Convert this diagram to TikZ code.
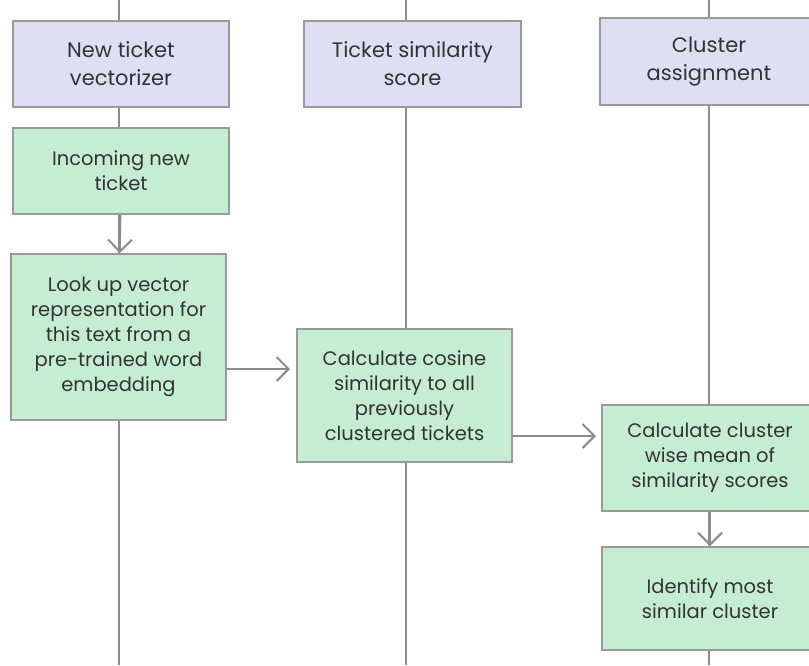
\documentclass[tikz,border=0pt]{standalone}
\usepackage{fontspec}
\setmainfont{Poppins}
\usetikzlibrary{arrows.meta}
\definecolor{hdrfill}{HTML}{DFDFF3}
\definecolor{stepfill}{HTML}{C5EDD2}
\definecolor{boxline}{HTML}{9A9A9A}
\definecolor{flowline}{HTML}{8C8C8C}
\definecolor{txt}{HTML}{333333}

\begin{document}
\begin{tikzpicture}[x=1pt, y=-1pt,
    lanebox/.style={draw=boxline, line width=2pt, fill=hdrfill, text=txt, align=center,
      inner sep=0pt, font=\fontsize{21}{28}\selectfont},
    stepbox/.style={lanebox, fill=stepfill, font=\fontsize{19.5}{25}\selectfont},
    lifeline/.style={draw=flowline, line width=2pt},
    flow/.style={lifeline, -{Straight Barb[length=12pt, width=24pt, line width=2pt]}}]
    \useasboundingbox (0,0) rectangle (809,665);
    % lifelines
    \coordinate (top1) at (119,0); \coordinate (bot1) at (119,665);
    \coordinate (top2) at (406,0); \coordinate (bot2) at (406,665);
    \coordinate (top3) at (709,0); \coordinate (bot3) at (709,665);
    \draw[lifeline] (top1) -- (bot1) (top2) -- (bot2) (top3) -- (bot3);
    % lane headers
    \node[lanebox, minimum width=216pt, minimum height=86pt] (vec) at (121,63.5) {New ticket\\vectorizer};
    \node[lanebox, minimum width=217pt, minimum height=86pt] (sim) at (412.5,64) {Ticket similarity\\score};
    \node[lanebox, minimum width=218pt, minimum height=87pt] (clu) at (709,61.5) {Cluster\\assignment};
    % steps
    \node[stepbox, minimum width=216pt, minimum height=86pt] (inc) at (121,171) {Incoming new\\ticket};
    \node[stepbox, minimum width=215pt, minimum height=166pt] (look) at (118.5,337) {Look up vector\\representation for\\this text from a\\pre-trained word\\embedding};
    \node[stepbox, minimum width=215pt, minimum height=133pt] (cos) at (404.5,395.5) {Calculate cosine\\similarity to all\\previously\\clustered tickets};
    \node[stepbox, minimum width=216pt, minimum height=106pt] (mean) at (710,458) {Calculate cluster\\wise mean of\\similarity scores};
    \node[stepbox, minimum width=216pt, minimum height=103pt] (ident) at (710,598.5) {Identify most\\similar cluster};
    % messages
    \draw[flow] (inc) -- (look);
    \draw[flow] (look.east |- 0,369) -- ([xshift=-6pt]cos.west |- 0,369);
    \draw[flow] (cos.east |- 0,436) -- ([xshift=-5pt]mean.west |- 0,436);
    \draw[flow] (mean) -- (ident);
\end{tikzpicture}
\end{document}
